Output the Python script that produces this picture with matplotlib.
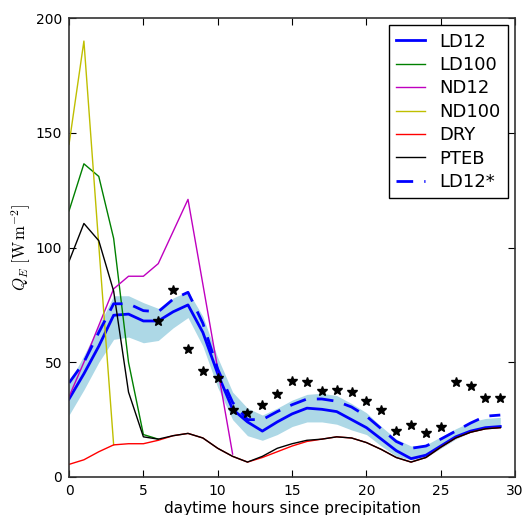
import numpy as np
import matplotlib
matplotlib.use("Agg")
import matplotlib.pyplot as plt

plt.rcParams['mathtext.fontset'] = 'cm'

hours = list(range(30))

ld12 = [34, 45, 57, 70.5, 71, 68, 68, 72, 75, 63, 45, 29.5, 24, 20, 24, 27.5, 30, 29.5, 28.5, 25,
        21.5, 16.5, 11.5, 8, 9.5, 13.5, 17.5, 20, 21.5, 22]
ld12_lo = [27, 38, 50, 60, 61, 58.5, 59.5, 65, 69.5, 57, 39, 25, 18, 16, 18.5, 22, 24, 24, 23, 20.5,
           18.5, 13.5, 9, 7.5, 8.5, 12.5, 16.5, 19.5, 21, 22]
ld12_hi = [41, 53, 66, 79, 79, 76, 73.5, 78, 81, 70, 52, 37, 30, 27, 30, 33.5, 36, 36.5, 35.5, 32,
           28, 22, 16.5, 13.5, 14, 17.5, 21, 24, 25.5, 26]
ld12_star = [41, 50, 63, 75.5, 75.5, 72.5, 72, 77.5, 80.5, 67, 47, 32.5, 25, 25, 28.5, 31.5, 34, 34,
             33, 30.5, 26.5, 21, 15.5, 12.5, 13.5, 16.5, 20, 23.5, 26.5, 27]

ld100_h = [0, 1, 2, 3, 4, 5, 6]
ld100 = [116, 136.5, 131, 104, 50, 18.5, 16.5]

nd12_h = [0, 1, 2, 3, 4, 5, 6, 7, 8, 9, 10, 11]
nd12 = [35, 50, 66, 82, 87.5, 87.5, 93, 107, 121, 84, 47, 10]

nd100_h = [0, 1, 2, 3]
nd100 = [145, 190, 101, 14]

dry = [5.5, 7.5, 11, 14, 14.5, 14.5, 16, 18, 19, 17, 12.5, 9, 6.5, 8.5, 11, 13.5, 15.5, 16.5, 17.5, 17,
       15, 12, 8.5, 6.5, 8.5, 13, 17, 19.5, 21, 21.5]
pteb = [94, 110.5, 103, 81, 37, 17.5, 16.5, 18, 19, 17, 12.5, 9, 6.5, 9, 12.5, 14.5, 16, 16.5, 17.5, 17,
        15, 12, 8.5, 6.5, 8.5, 13, 17, 19.5, 21, 21.5]

obs_h = list(range(6, 30))
obs = [68, 81.5, 56, 46, 43, 29, 28, 31.5, 36, 42, 41.5, 37.5, 38, 37, 33, 29, 20, 22.5, 19, 22,
       41.5, 39.5, 34.5, 34.5]

fig = plt.figure(figsize=(5.23, 5.15), dpi=100)
ax = fig.add_axes([0.132, 0.0738, 0.853, 0.891])

ax.fill_between(hours, ld12_lo, ld12_hi, color='lightblue', lw=0)
ax.plot(hours, ld12, color='b', lw=2, label='LD12')
ax.plot(ld100_h, ld100, color='g', lw=1, label='LD100')
ax.plot(nd12_h, nd12, color='m', lw=1, label='ND12')
ax.plot(nd100_h, nd100, color='y', lw=1, label='ND100')
ax.plot(hours, dry, color='r', lw=1, label='DRY')
ax.plot(hours, pteb, color='k', lw=1, label='PTEB')
ax.plot(hours, ld12_star, color='b', lw=2, dashes=(6, 4), label='LD12*')
ax.plot(obs_h, obs, ls='none', marker='*', color='k', markersize=7)

ax.set_xlim(0, 30)
ax.set_ylim(0, 200)
ax.set_xticks([0, 5, 10, 15, 20, 25, 30])
ax.set_yticks([0, 50, 100, 150, 200])
ax.tick_params(direction='in', length=5, width=0.8, top=True, right=True, labelsize=10, pad=5)
for s in ax.spines.values():
    s.set_linewidth(1.2)
    s.set_color('#333333')

ax.set_xlabel('daytime hours since precipitation', fontsize=11, labelpad=2)
ax.set_ylabel(r'$Q_E\ [\mathrm{W\,m^{-2}}]$', fontsize=12, labelpad=2)

leg = ax.legend(loc='upper right', fontsize=13, handlelength=1.6, fancybox=False,
                edgecolor='k', framealpha=1, borderaxespad=0.4, labelspacing=0.3)
leg.get_frame().set_linewidth(1.0)

fig.savefig('out.png', dpi=100)
